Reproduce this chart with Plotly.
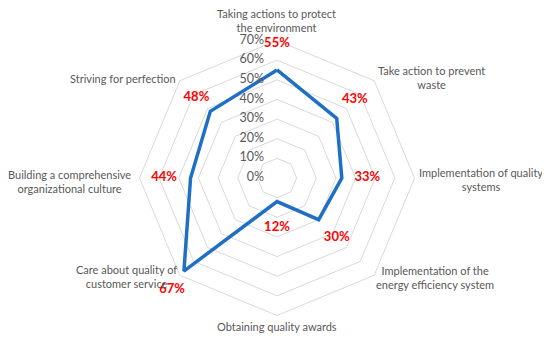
import plotly.graph_objects as go

categories = [
    "Taking actions to protect<br>the environment",
    "Take action to prevent<br>waste",
    "Implementation of quality<br>systems",
    "Implementation of the<br>energy efficiency system",
    "Obtaining quality awards",
    "Care about quality of<br>customer service",
    "Building a comprehensive<br>organizational culture",
    "Striving for perfection",
]
values = [55, 43, 33, 30, 12, 67, 44, 48]
radial_ticks = [0, 10, 20, 30, 40, 50, 60, 70]

# layout-only settings
label_px = [(276, 20), (431, 77), (481, 179), (435, 277),
            (277, 326), (126, 276), (69, 181), (123, 78)]
value_label_offsets = [13.5, 13, 13, 13, 13.5, 8.5, 13.5, 10]
value_label_positions = ["middle center"] * 5 + ["bottom center"] + ["middle center"] * 2

font_family = "Lato, Liberation Sans, Arial, sans-serif"
grey = "#595959"
page_margin = 8  # default body margin of the html page

fig = go.Figure()
fig.add_trace(go.Scatterpolar(
    r=values + values[:1],
    theta=categories + categories[:1],
    mode="lines",
    line=dict(color="#1F6FC5", width=3.5),
    hoverinfo="skip",
    showlegend=False,
))
fig.add_trace(go.Scatterpolar(
    r=[v + o for v, o in zip(values, value_label_offsets)],
    theta=categories,
    mode="text",
    text=[f"{v}%" for v in values],
    textfont=dict(color="#FF0000", size=13, family=font_family, weight="bold"),
    textposition=value_label_positions,
    cliponaxis=False,
    hoverinfo="skip",
    showlegend=False,
))
# radial tick labels along the top spoke
# (plotly hides text exactly at the pole, so the 0 tick sits an epsilon off it)
fig.add_trace(go.Scatterpolar(
    r=[max(t, 1e-6) for t in radial_ticks],
    theta=[categories[0]] * len(radial_ticks),
    mode="markers+text",
    marker=dict(size=19, opacity=0),
    text=[f"{t}%" for t in radial_ticks],
    textposition="middle left",
    textfont=dict(color=grey, size=12.5, family=font_family),
    cliponaxis=False,
    hoverinfo="skip",
    showlegend=False,
))

W, H = 550, 339
cx, cy = 277 - page_margin, 178 - page_margin
rmax_grid, rmax_range = 70, 80
rad = 137.5 * rmax_range / rmax_grid

annotations = []
for name, (px, py) in zip(categories, label_px):
    annotations.append(dict(
        text=name, x=(px - page_margin) / W, y=1 - (py - page_margin) / H,
        xref="paper", yref="paper",
        xanchor="center", yanchor="middle", align="center", showarrow=False,
        font=dict(size=11, color=grey, family=font_family),
    ))

fig.update_layout(
    width=W, height=H,
    margin=dict(l=0, r=0, t=0, b=0),
    paper_bgcolor="white",
    plot_bgcolor="white",
    showlegend=False,
    annotations=annotations,
    polar=dict(
        domain=dict(x=[(cx - rad) / W, (cx + rad) / W],
                    y=[(H - cy - rad) / H, (H - cy + rad) / H]),
        gridshape="linear",
        bgcolor="white",
        radialaxis=dict(
            range=[0, rmax_range],
            tickvals=radial_ticks,
            showticklabels=False,
            angle=90,
            showline=False,
            ticks="",
            gridcolor="#D9D9D9",
            gridwidth=1,
        ),
        angularaxis=dict(
            rotation=90,
            direction="clockwise",
            showgrid=False,
            showline=False,
            showticklabels=False,
            ticks="",
        ),
    ),
)

fig.write_html("out.html")
